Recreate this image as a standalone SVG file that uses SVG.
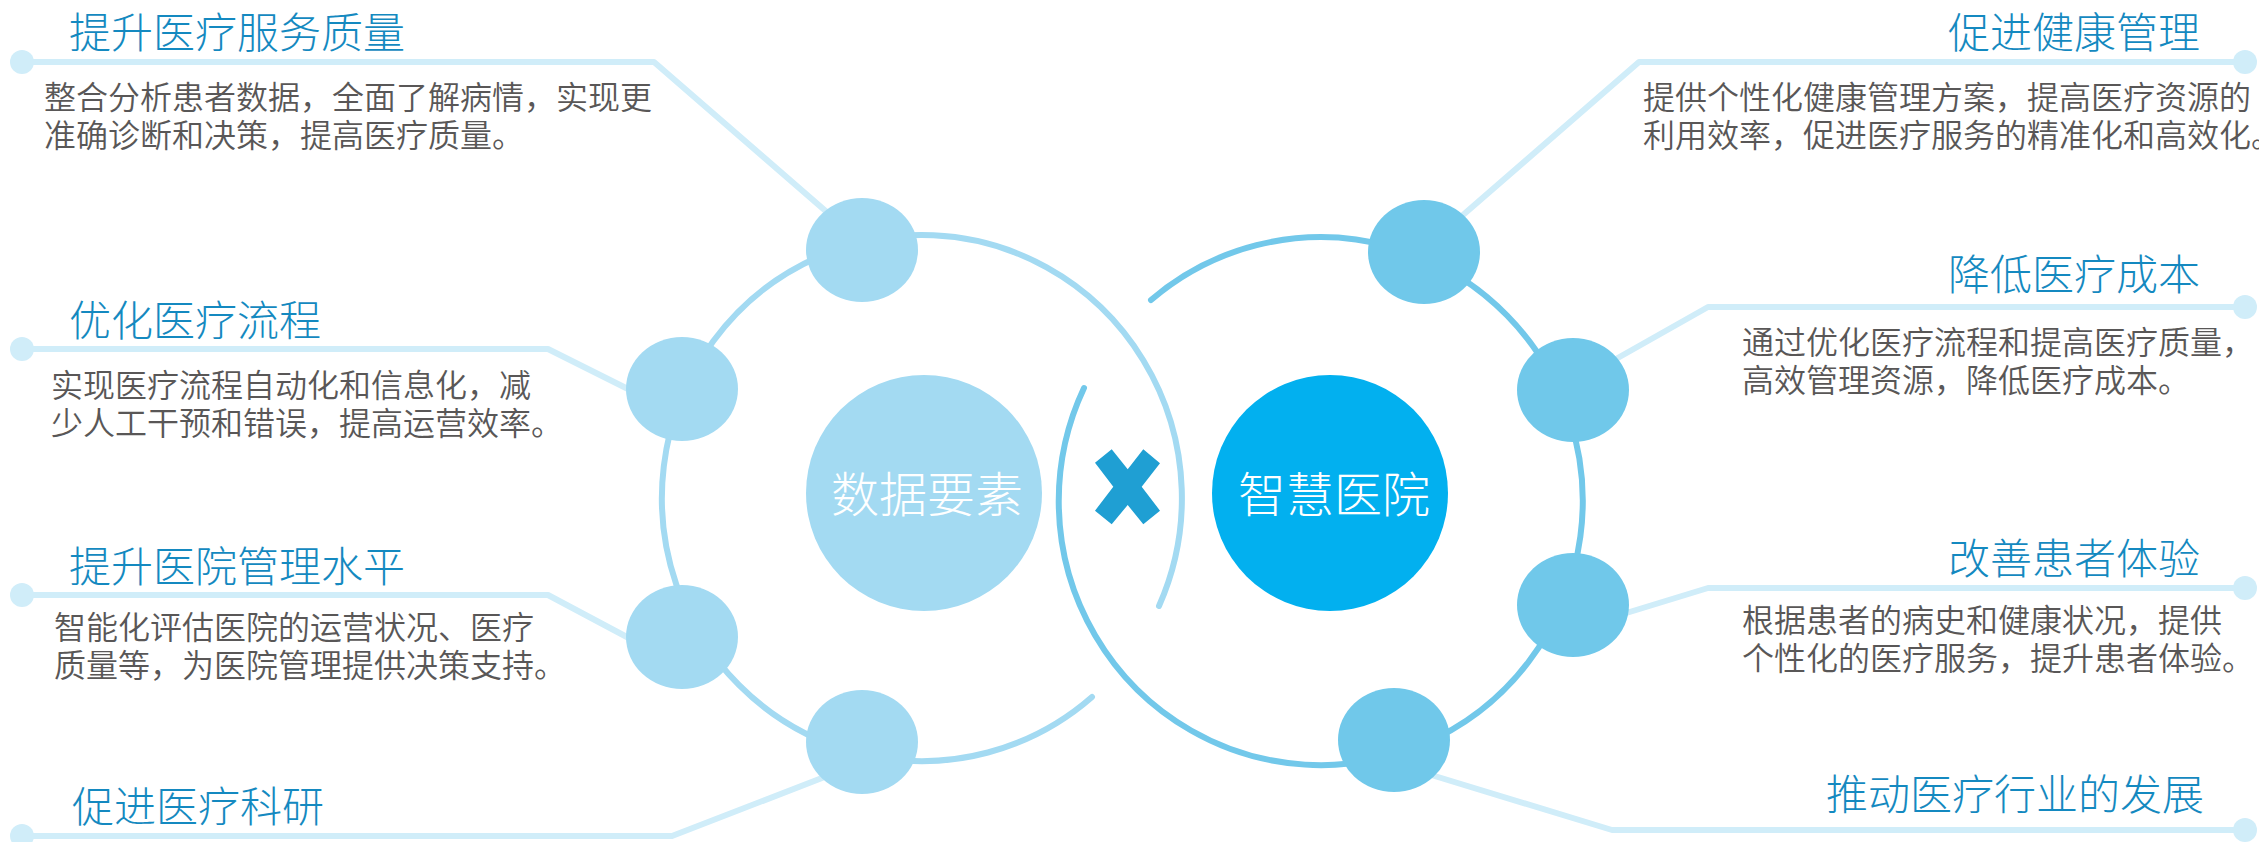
<svg xmlns="http://www.w3.org/2000/svg" width="2259" height="842" viewBox="0 0 2259 842">
<style>
.conn{fill:none;stroke:#d0edf9;stroke-width:6;stroke-linecap:round;stroke-linejoin:round}
.dot{fill:#d0edf9}
.ringL{fill:none;stroke:#a3daf2;stroke-width:6;stroke-linecap:round}
.ringR{fill:none;stroke:#72c8ea;stroke-width:6;stroke-linecap:round}
.nL{fill:#a3daf2}
.nR{fill:#70c8ea}
.title{font-family:"Noto Sans CJK SC","Noto Sans",sans-serif;font-size:42px;font-weight:300;fill:#1489c0}
.body{font-family:"Noto Sans CJK SC","Noto Sans",sans-serif;font-size:32px;font-weight:350;fill:#595757}
.center{font-family:"Noto Sans CJK SC","Noto Sans",sans-serif;font-size:48px;font-weight:300;fill:#ffffff;text-anchor:middle}
.end{text-anchor:end}
</style>
<rect width="2259" height="842" fill="#ffffff"/>
<g id="connectors">
<path class="conn" d="M22,62 H654 L836,220"/>
<path class="conn" d="M22,349 H548 L640,395"/>
<path class="conn" d="M22,595 H548 L640,644"/>
<path class="conn" d="M22,836 H672 L840,771"/>
<path class="conn" d="M2245,62 H1639 L1448,228"/>
<path class="conn" d="M2245,307 H1708 L1600,368"/>
<path class="conn" d="M2245,588 H1708 L1610,618"/>
<path class="conn" d="M2245,830 H1612 L1415,770"/>
<circle class="dot" cx="22" cy="62" r="12"/>
<circle class="dot" cx="22" cy="349" r="12"/>
<circle class="dot" cx="22" cy="595" r="12"/>
<circle class="dot" cx="22" cy="836" r="12"/>
<circle class="dot" cx="2245" cy="62" r="12"/>
<circle class="dot" cx="2245" cy="307" r="12"/>
<circle class="dot" cx="2245" cy="588" r="12"/>
<circle class="dot" cx="2245" cy="830" r="12"/>
<path class="ringL" d="M1092,697 A260 263 0 1 1 1159,606"/>
<path class="ringR" d="M1151,300 A262 264 0 1 1 1084,388"/>
</g>
<g id="node-data">
<circle cx="924" cy="493" r="118" fill="#a3daf2"/>
<text class="center" x="927" y="512">数据要素</text>
</g>
<g id="node-hospital">
<circle cx="1330" cy="493" r="118" fill="#02b0ef"/>
<text class="center" x="1334" y="512">智慧医院</text>
</g>
<g id="cross">
<polygon fill="#1f9fd3" points="1095,462.7 1111.7,449.3 1127.7,469.3 1143.3,449.3 1160,463.3 1141.7,486.7 1160,510.7 1143.3,524.3 1127.7,505 1111.7,524.3 1095,510.7 1113.3,486.7"/>
</g>
<g id="node-l1"><ellipse class="nL" cx="862" cy="250" rx="56" ry="52"/></g>
<g id="node-l2"><ellipse class="nL" cx="682" cy="389" rx="56" ry="52"/></g>
<g id="node-l3"><ellipse class="nL" cx="682" cy="637" rx="56" ry="52"/></g>
<g id="node-l4"><ellipse class="nL" cx="862" cy="742" rx="56" ry="52"/></g>
<g id="node-r1"><ellipse class="nR" cx="1424" cy="252" rx="56" ry="52"/></g>
<g id="node-r2"><ellipse class="nR" cx="1573" cy="390" rx="56" ry="52"/></g>
<g id="node-r3"><ellipse class="nR" cx="1573" cy="605" rx="56" ry="52"/></g>
<g id="node-r4"><ellipse class="nR" cx="1394" cy="740" rx="56" ry="52"/></g>
<g id="item-l1">
<text class="title" x="69" y="48">提升医疗服务质量</text>
<text class="body" x="44" y="109">整合分析患者数据，全面了解病情，实现更</text>
<text class="body" x="44" y="147">准确诊断和决策，提高医疗质量。</text>
</g>
<g id="item-l2">
<text class="title" x="69" y="336">优化医疗流程</text>
<text class="body" x="51" y="397">实现医疗流程自动化和信息化，减</text>
<text class="body" x="51" y="435">少人工干预和错误，提高运营效率。</text>
</g>
<g id="item-l3">
<text class="title" x="69" y="582">提升医院管理水平</text>
<text class="body" x="54" y="639">智能化评估医院的运营状况、医疗</text>
<text class="body" x="54" y="677">质量等，为医院管理提供决策支持。</text>
</g>
<g id="item-l4">
<text class="title" x="72" y="822">促进医疗科研</text>
</g>
<g id="item-r1">
<text class="title end" x="2200" y="48">促进健康管理</text>
<text class="body" x="1643" y="109">提供个性化健康管理方案，提高医疗资源的</text>
<text class="body" x="1643" y="147">利用效率，促进医疗服务的精准化和高效化。</text>
</g>
<g id="item-r2">
<text class="title end" x="2200" y="290">降低医疗成本</text>
<text class="body" x="1742" y="354">通过优化医疗流程和提高医疗质量，</text>
<text class="body" x="1742" y="392">高效管理资源，降低医疗成本。</text>
</g>
<g id="item-r3">
<text class="title end" x="2200" y="574">改善患者体验</text>
<text class="body" x="1742" y="632">根据患者的病史和健康状况，提供</text>
<text class="body" x="1742" y="670">个性化的医疗服务，提升患者体验。</text>
</g>
<g id="item-r4">
<text class="title end" x="2204" y="810">推动医疗行业的发展</text>
</g>
</svg>
